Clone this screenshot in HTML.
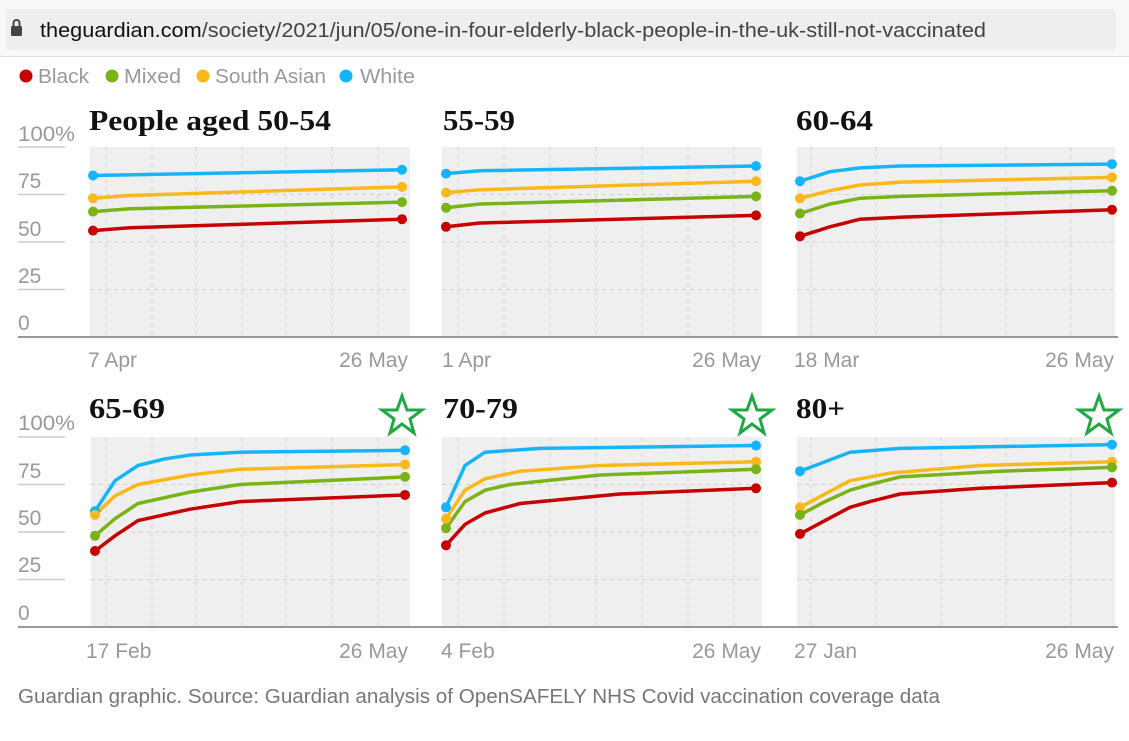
<!DOCTYPE html>
<html><head><meta charset="utf-8"><style>
body{margin:0;background:#fff;width:1129px;height:736px;overflow:hidden;font-family:"Liberation Sans",sans-serif}
</style></head><body>
<svg width="1129" height="736" viewBox="0 0 1129 736" xmlns="http://www.w3.org/2000/svg" font-family="Liberation Sans, sans-serif">
<rect x="0" y="0" width="1129" height="56" fill="#f7f8f9"/>
<rect x="6" y="9" width="1110" height="41" rx="3" fill="#eceef0"/>
<rect x="11" y="26" width="11" height="10" rx="1.5" fill="#444"/>
<path d="M13.5 26 v-3 a3 3 0 0 1 6 0 v3" fill="none" stroke="#444" stroke-width="2"/>
<text x="40" y="37" font-size="20" fill="#111" textLength="946" lengthAdjust="spacingAndGlyphs">theguardian.com<tspan fill="#444">/society/2021/jun/05/one-in-four-elderly-black-people-in-the-uk-still-not-vaccinated</tspan></text>
<line x1="0" y1="56.5" x2="1129" y2="56.5" stroke="#dde" stroke-width="1"/>
<g font-size="20" fill="#999">
<circle cx="26" cy="76" r="6.5" fill="#c70000"/><text x="38" y="83" textLength="51" lengthAdjust="spacingAndGlyphs">Black</text>
<circle cx="112" cy="76" r="6.5" fill="#7ab317"/><text x="124" y="83" textLength="57" lengthAdjust="spacingAndGlyphs">Mixed</text>
<circle cx="203" cy="76" r="6.5" fill="#fbb81c"/><text x="215" y="83" textLength="111" lengthAdjust="spacingAndGlyphs">South Asian</text>
<circle cx="346" cy="76" r="6.5" fill="#16b5fb"/><text x="360" y="83" textLength="55" lengthAdjust="spacingAndGlyphs">White</text>
</g>
<!-- y axes -->
<g font-size="21" fill="#999">
<text x="18" y="141" textLength="57" lengthAdjust="spacingAndGlyphs">100%</text><text x="18" y="188">75</text><text x="18" y="236">50</text><text x="18" y="283">25</text><text x="18" y="330">0</text>
<text x="18" y="430" textLength="57" lengthAdjust="spacingAndGlyphs">100%</text><text x="18" y="478">75</text><text x="18" y="525">50</text><text x="18" y="572">25</text><text x="18" y="620">0</text>
</g>
<g stroke="#ccc" stroke-width="1.5">
<line x1="18" x2="65" y1="147" y2="147"/><line x1="18" x2="65" y1="194.5" y2="194.5"/><line x1="18" x2="65" y1="242" y2="242"/><line x1="18" x2="65" y1="289.5" y2="289.5"/>
<line x1="18" x2="65" y1="437" y2="437"/><line x1="18" x2="65" y1="484.5" y2="484.5"/><line x1="18" x2="65" y1="532" y2="532"/><line x1="18" x2="65" y1="579.5" y2="579.5"/>
</g>
<!-- plot backgrounds -->
<g fill="#efefef">
<rect x="90" y="147" width="320" height="190"/><rect x="442" y="147" width="320" height="190"/><rect x="797" y="147" width="318" height="190"/>
<rect x="91" y="437" width="319" height="190"/><rect x="442" y="437" width="320" height="190"/><rect x="797" y="437" width="318" height="190"/>
</g>
<g stroke="#d2d2d2" stroke-width="1" stroke-dasharray="4,4">
<path d="M90 194.5H410M442 194.5H762M797 194.5H1115M90 242H410M442 242H762M797 242H1115M90 289.5H410M442 289.5H762M797 289.5H1115"/>
<path d="M91 484.5H410M442 484.5H762M797 484.5H1115M91 532H410M442 532H762M797 532H1115M91 579.5H410M442 579.5H762M797 579.5H1115"/>
<path d="M106 147V337M152 147V337M196 147V337M242 147V337M286 147V337M332 147V337M378 147V337"/>
<path d="M458 147V337M504 147V337M550 147V337M596 147V337M642 147V337M688 147V337M734 147V337"/>
<path d="M811 147V337M876 147V337M941 147V337M1006 147V337M1071 147V337"/>
<path d="M106 437V627M152 437V627M196 437V627M242 437V627M286 437V627M332 437V627M378 437V627"/>
<path d="M458 437V627M504 437V627M550 437V627M596 437V627M642 437V627M688 437V627M734 437V627"/>
<path d="M811 437V627M876 437V627M941 437V627M1006 437V627M1071 437V627"/>
</g>
<line x1="18" y1="337" x2="1118" y2="337" stroke="#999" stroke-width="2"/>
<line x1="18" y1="627" x2="1118" y2="627" stroke="#999" stroke-width="2"/>
<!-- titles -->
<g font-family="Liberation Serif, serif" font-weight="bold" font-size="29" fill="#121212">
<text x="89" y="130" textLength="242" lengthAdjust="spacingAndGlyphs">People aged 50-54</text><text x="443" y="130" textLength="72" lengthAdjust="spacingAndGlyphs">55-59</text><text x="796" y="130" textLength="77" lengthAdjust="spacingAndGlyphs">60-64</text>
<text x="89" y="418" textLength="76" lengthAdjust="spacingAndGlyphs">65-69</text><text x="443" y="418" textLength="75" lengthAdjust="spacingAndGlyphs">70-79</text><text x="796" y="418" textLength="49" lengthAdjust="spacingAndGlyphs">80+</text>
</g>
<g font-size="21" fill="#999">
<text x="88" y="367">7 Apr</text><text x="408" y="367" text-anchor="end">26 May</text>
<text x="442" y="367">1 Apr</text><text x="761" y="367" text-anchor="end">26 May</text>
<text x="794" y="367">18 Mar</text><text x="1114" y="367" text-anchor="end">26 May</text>
<text x="86" y="658">17 Feb</text><text x="408" y="658" text-anchor="end">26 May</text>
<text x="441" y="658">4 Feb</text><text x="761" y="658" text-anchor="end">26 May</text>
<text x="794" y="658">27 Jan</text><text x="1114" y="658" text-anchor="end">26 May</text>
</g>
<!-- row 1 data -->
<g transform="translate(0,337) scale(1,-1.9)" fill="none" stroke-width="3.5" stroke-linejoin="round">
<g stroke="#16b5fb"><polyline vector-effect="non-scaling-stroke" points="93,85 402,88"/><polyline vector-effect="non-scaling-stroke" points="446,86 480,87.5 756,90"/><polyline vector-effect="non-scaling-stroke" points="800,82 830,87 860,89 900,90 1112,91"/></g>
<g stroke="#fbb81c"><polyline vector-effect="non-scaling-stroke" points="93,73 130,74.5 402,79"/><polyline vector-effect="non-scaling-stroke" points="446,76 480,77.5 756,82"/><polyline vector-effect="non-scaling-stroke" points="800,73 830,77 860,80 900,81.5 1112,84"/></g>
<g stroke="#7ab317"><polyline vector-effect="non-scaling-stroke" points="93,66 130,67.5 402,71"/><polyline vector-effect="non-scaling-stroke" points="446,68 480,70 756,74"/><polyline vector-effect="non-scaling-stroke" points="800,65 830,70 860,73 900,74 1112,77"/></g>
<g stroke="#c70000"><polyline vector-effect="non-scaling-stroke" points="93,56 130,57.5 402,62"/><polyline vector-effect="non-scaling-stroke" points="446,58 480,60 756,64"/><polyline vector-effect="non-scaling-stroke" points="800,53 830,58 860,62 900,63 1112,67"/></g>
<g stroke="none">
<g fill="#16b5fb"><ellipse cx="93" cy="85" rx="5" ry="2.63"/><ellipse cx="402" cy="88" rx="5" ry="2.63"/><ellipse cx="446" cy="86" rx="5" ry="2.63"/><ellipse cx="756" cy="90" rx="5" ry="2.63"/><ellipse cx="800" cy="82" rx="5" ry="2.63"/><ellipse cx="1112" cy="91" rx="5" ry="2.63"/></g>
<g fill="#fbb81c"><ellipse cx="93" cy="73" rx="5" ry="2.63"/><ellipse cx="402" cy="79" rx="5" ry="2.63"/><ellipse cx="446" cy="76" rx="5" ry="2.63"/><ellipse cx="756" cy="82" rx="5" ry="2.63"/><ellipse cx="800" cy="73" rx="5" ry="2.63"/><ellipse cx="1112" cy="84" rx="5" ry="2.63"/></g>
<g fill="#7ab317"><ellipse cx="93" cy="66" rx="5" ry="2.63"/><ellipse cx="402" cy="71" rx="5" ry="2.63"/><ellipse cx="446" cy="68" rx="5" ry="2.63"/><ellipse cx="756" cy="74" rx="5" ry="2.63"/><ellipse cx="800" cy="65" rx="5" ry="2.63"/><ellipse cx="1112" cy="77" rx="5" ry="2.63"/></g>
<g fill="#c70000"><ellipse cx="93" cy="56" rx="5" ry="2.63"/><ellipse cx="402" cy="62" rx="5" ry="2.63"/><ellipse cx="446" cy="58" rx="5" ry="2.63"/><ellipse cx="756" cy="64" rx="5" ry="2.63"/><ellipse cx="800" cy="53" rx="5" ry="2.63"/><ellipse cx="1112" cy="67" rx="5" ry="2.63"/></g>
</g>
</g>
<!-- row 2 data -->
<g transform="translate(0,627) scale(1,-1.9)" fill="none" stroke-width="3.5" stroke-linejoin="round">
<g stroke="#16b5fb"><polyline vector-effect="non-scaling-stroke" points="95,61 115,77 138,85 165,88.5 190,90.5 240,92 405,93"/><polyline vector-effect="non-scaling-stroke" points="446,63 465,85 485,92 540,94 756,95.5"/><polyline vector-effect="non-scaling-stroke" points="800,82 825,87 850,92 900,94 1112,96"/></g>
<g stroke="#fbb81c"><polyline vector-effect="non-scaling-stroke" points="95,59 115,69 138,75 190,80 240,83 405,85.5"/><polyline vector-effect="non-scaling-stroke" points="446,57 465,72 485,78 520,82 600,85 756,87"/><polyline vector-effect="non-scaling-stroke" points="800,63 825,70 850,77 890,81 980,85 1112,87"/></g>
<g stroke="#7ab317"><polyline vector-effect="non-scaling-stroke" points="95,48 115,57 138,65 190,71 240,75 405,79"/><polyline vector-effect="non-scaling-stroke" points="446,52 465,66 485,72 510,75 600,80 756,83"/><polyline vector-effect="non-scaling-stroke" points="800,59 825,66 850,72 870,75 900,79 1000,82 1112,84"/></g>
<g stroke="#c70000"><polyline vector-effect="non-scaling-stroke" points="95,40 115,48 138,56 190,62 240,66 405,69.5"/><polyline vector-effect="non-scaling-stroke" points="446,43 465,54 485,60 520,65 620,70 756,73"/><polyline vector-effect="non-scaling-stroke" points="800,49 825,56 850,63 870,66 900,70 980,73 1112,76"/></g>
<g stroke="none">
<g fill="#16b5fb"><ellipse cx="95" cy="61" rx="5" ry="2.63"/><ellipse cx="405" cy="93" rx="5" ry="2.63"/><ellipse cx="446" cy="63" rx="5" ry="2.63"/><ellipse cx="756" cy="95.5" rx="5" ry="2.63"/><ellipse cx="800" cy="82" rx="5" ry="2.63"/><ellipse cx="1112" cy="96" rx="5" ry="2.63"/></g>
<g fill="#fbb81c"><ellipse cx="95" cy="59" rx="5" ry="2.63"/><ellipse cx="405" cy="85.5" rx="5" ry="2.63"/><ellipse cx="446" cy="57" rx="5" ry="2.63"/><ellipse cx="756" cy="87" rx="5" ry="2.63"/><ellipse cx="800" cy="63" rx="5" ry="2.63"/><ellipse cx="1112" cy="87" rx="5" ry="2.63"/></g>
<g fill="#7ab317"><ellipse cx="95" cy="48" rx="5" ry="2.63"/><ellipse cx="405" cy="79" rx="5" ry="2.63"/><ellipse cx="446" cy="52" rx="5" ry="2.63"/><ellipse cx="756" cy="83" rx="5" ry="2.63"/><ellipse cx="800" cy="59" rx="5" ry="2.63"/><ellipse cx="1112" cy="84" rx="5" ry="2.63"/></g>
<g fill="#c70000"><ellipse cx="95" cy="40" rx="5" ry="2.63"/><ellipse cx="405" cy="69.5" rx="5" ry="2.63"/><ellipse cx="446" cy="43" rx="5" ry="2.63"/><ellipse cx="756" cy="73" rx="5" ry="2.63"/><ellipse cx="800" cy="49" rx="5" ry="2.63"/><ellipse cx="1112" cy="76" rx="5" ry="2.63"/></g>
</g>
</g>
<!-- stars -->
<g fill="none" stroke="#22a745" stroke-width="3" stroke-linejoin="miter">
<polygon transform="translate(402,417)" points="0,-21 5,-7 20,-7 8,2 12,16 0,7 -12,16 -8,2 -20,-7 -5,-7"/>
<polygon transform="translate(752,417)" points="0,-21 5,-7 20,-7 8,2 12,16 0,7 -12,16 -8,2 -20,-7 -5,-7"/>
<polygon transform="translate(1099,417)" points="0,-21 5,-7 20,-7 8,2 12,16 0,7 -12,16 -8,2 -20,-7 -5,-7"/>
</g>
<text x="18" y="703" font-size="20" fill="#777" textLength="922" lengthAdjust="spacingAndGlyphs">Guardian graphic. Source: Guardian analysis of OpenSAFELY NHS Covid vaccination coverage data</text>
</svg>
</body></html>
